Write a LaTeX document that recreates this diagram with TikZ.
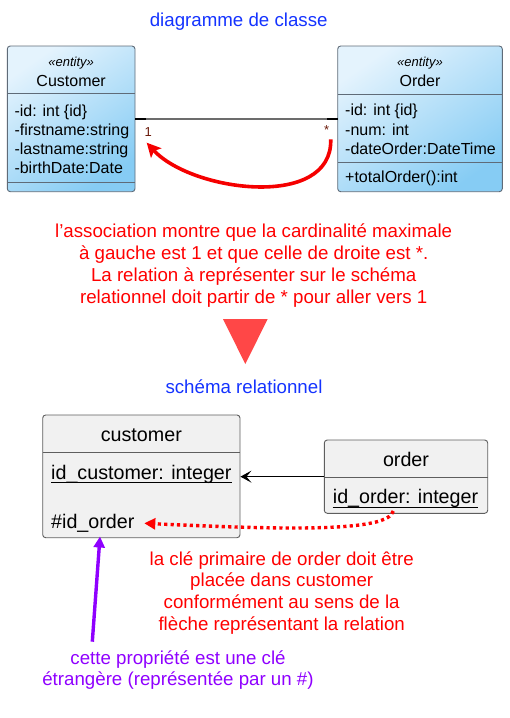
\documentclass[tikz,border=0pt]{standalone}
\usepackage{fontspec}
\setmainfont{Liberation Sans}
\usetikzlibrary{arrows.meta}
\definecolor{ttlblue}{HTML}{1433FF}
\definecolor{txtred}{HTML}{FF0000}
\definecolor{arcred}{HTML}{F50000}
\definecolor{trired}{HTML}{FF4747}
\definecolor{fkpurple}{HTML}{8F00FF}
\definecolor{umlborder}{HTML}{5F6B78}
\definecolor{umltop}{HTML}{E4F3FD}
\definecolor{umlbot}{HTML}{86CCF4}
\definecolor{tabfill}{HTML}{F1F1F1}
\definecolor{tabborder}{HTML}{5E5E5E}
\definecolor{cardred}{HTML}{6B1A0A}
\newcommand\myBig{\fontsize{18.7}{22}\selectfont}
\newcommand\myUml{\fontsize{16}{19}\selectfont}
\newcommand\myStereo{\fontsize{13}{15}\selectfont\itshape}
\newcommand\myTab{\fontsize{19.7}{24}\selectfont}
\newcommand\myCard{\fontsize{13}{15}\selectfont}
\tikzset{
  umlbox/.style={draw=umlborder, line width=0.9pt, rounded corners=3pt,
    top color=umltop, bottom color=umlbot, shading angle=35, inner sep=0pt},
  tabbox/.style={draw=tabborder, line width=0.9pt, rounded corners=3pt,
    fill=tabfill, inner sep=0pt},
  umlsep/.style={draw=umlborder, line width=0.9pt},
  tabsep/.style={draw=tabborder, line width=0.9pt},
  txt/.style={inner sep=0pt, anchor=base},
  txtw/.style={inner sep=0pt, anchor=base west},
  ulined/.style={draw=black, line width=1pt},
}
\begin{document}
\begin{tikzpicture}[x=1pt,y=-1pt]
\useasboundingbox (0,0) rectangle (510,718);

% title
\node[txt, text=ttlblue, font=\myBig] (title1) at (238.7,26.7) {diagramme de classe};

% class Customer
\node[umlbox, minimum width=127.7pt, minimum height=145.7pt] (cust) at (71.15,118.85) {};
\draw[umlsep] (7.3,93.3) -- (135,93.3);
\draw[umlsep] (7.3,182.7) -- (135,182.7);
\node[txt, font=\myStereo] (custst) at (71.15,66) {«entity»};
\node[txt, font=\myUml] (custname) at (71.15,86) {Customer};
\node[txtw, font=\myUml] (ca1) at (14.3,116.5) {-id: int \{id\}};
\node[txtw, font=\myUml] (ca2) at (14.3,135.5) {-firstname:string};
\node[txtw, font=\myUml] (ca3) at (14.3,154.5) {-lastname:string};
\node[txtw, font=\myUml] (ca4) at (14.3,173.5) {-birthDate:Date};

% class Order
\node[umlbox, minimum width=164.6pt, minimum height=145.7pt] (ord) at (420,118.85) {};
\draw[umlsep] (337.7,94) -- (502.3,94);
\draw[umlsep] (337.7,162.3) -- (502.3,162.3);
\node[txt, font=\myStereo] (ordst) at (420,66) {«entity»};
\node[txt, font=\myUml] (ordname) at (420,86) {Order};
\node[txtw, font=\myUml] (oa1) at (345,115.5) {-id: int \{id\}};
\node[txtw, font=\myUml] (oa2) at (345,135) {-num: int};
\node[txtw, font=\myUml] (oa3) at (345,154.5) {-dateOrder:DateTime};
\node[txtw, font=\myUml] (om1) at (345,182) {+totalOrder():int};

% association
\coordinate (asL) at (135,119);
\coordinate (asL2) at (146,119);
\coordinate (asR2) at (327,119);
\coordinate (asR) at (338,119);
\draw[draw=gray!85!black, line width=1.4pt] (asL2) -- (asR2);
\draw[draw=black, line width=1.6pt] (asL) -- (asL2);
\draw[draw=black, line width=1.6pt] (asR2) -- (asR);
\node[txt, text=cardred, font=\myCard] (card1) at (148.3,136) {1};
\node[txt, text=cardred, font=\myCard] (card2) at (326.7,134) {*};

% red curved arrow
\coordinate (arcS) at (330.7,139.3);
\coordinate (arcE) at (146.7,142.7);
\draw[arcred, line width=3.6pt, -{Stealth[length=14pt,width=14pt,inset=3pt]}]
  (arcS) .. controls (333,210) and (192,192) .. (arcE);

% red explanation
\node[txt, text=txtred, font=\myBig] (r1) at (253.7,237.5) {l'association montre que la cardinalité maximale};
\node[txt, text=txtred, font=\myBig] (r2) at (253.7,259.5) {à gauche est 1 et que celle de droite est *.};
\node[txt, text=txtred, font=\myBig] (r3) at (253.7,281.7) {La relation à représenter sur le schéma};
\node[txt, text=txtred, font=\myBig] (r4) at (253.7,303.5) {relationnel doit partir de * pour aller vers 1};

% triangle
\fill[trired] (223,319) -- (267.7,319) -- (245.3,364) -- cycle;

% subtitle
\node[txt, text=ttlblue, font=\myBig] (title2) at (244,393) {schéma relationnel};

% table customer
\node[tabbox, minimum width=197.3pt, minimum height=122.7pt] (custT) at (141.35,476.35) {};
\draw[tabsep] (42.7,452.7) -- (240,452.7);
\node[txt, font=\myTab] (ctname) at (141.35,441.7) {customer};
\node[txtw, font=\myTab] (ctpk) at (51,479) {id\_customer: integer};
\draw[ulined] ([yshift=-3.8pt]ctpk.base west) -- ([yshift=-3.8pt]ctpk.base east);
\node[txtw, font=\myTab] (ctfk) at (51,528.3) {\#id\_order};

% table order
\node[tabbox, minimum width=163.4pt, minimum height=73.3pt] (ordT) at (406,476.65) {};
\draw[tabsep] (324.3,477.7) -- (487.7,477.7);
\node[txt, font=\myTab] (otname) at (406,466.7) {order};
\node[txtw, font=\myTab] (otpk) at (332.7,503.3) {id\_order: integer};
\draw[ulined] ([yshift=-3.8pt]otpk.base west) -- ([yshift=-3.8pt]otpk.base east);

% relation arrow
\draw[black, line width=1.1pt, -{Stealth[length=11pt,width=12pt,inset=5pt]}]
  (ordT.west) -- (custT.east |- ordT.west);

% red dotted arrow
\coordinate (dotS) at (393.3,511);
\coordinate (dotE) at (144.3,523.3);
\draw[txtred, line width=3.4pt, dash pattern=on 3.2pt off 3.2pt,
  -{Triangle[length=11pt,width=11pt]}]
  (dotS) .. controls (388,532) and (290,530) .. (dotE);

% red lower explanation
\node[txt, text=txtred, font=\myBig] (b1) at (281.7,565) {la clé primaire de order doit être};
\node[txt, text=txtred, font=\myBig] (b2) at (281.7,586.7) {placée dans customer};
\node[txt, text=txtred, font=\myBig] (b3) at (281.7,608.4) {conformément au sens de la};
\node[txt, text=txtred, font=\myBig] (b4) at (281.7,630) {flèche représentant la relation};

% purple arrow
\coordinate (fkS) at (92.3,641.7);
\coordinate (fkE) at (100,536.5);
\draw[fkpurple, line width=3.4pt, -{Triangle[length=11pt,width=11pt]}] (fkS) -- (fkE);

% purple text
\node[txt, text=fkpurple, font=\myBig] (p1) at (178,664) {cette propriété est une clé};
\node[txt, text=fkpurple, font=\myBig] (p2) at (178,685) {étrangère (représentée par un \#)};
\end{tikzpicture}
\end{document}
